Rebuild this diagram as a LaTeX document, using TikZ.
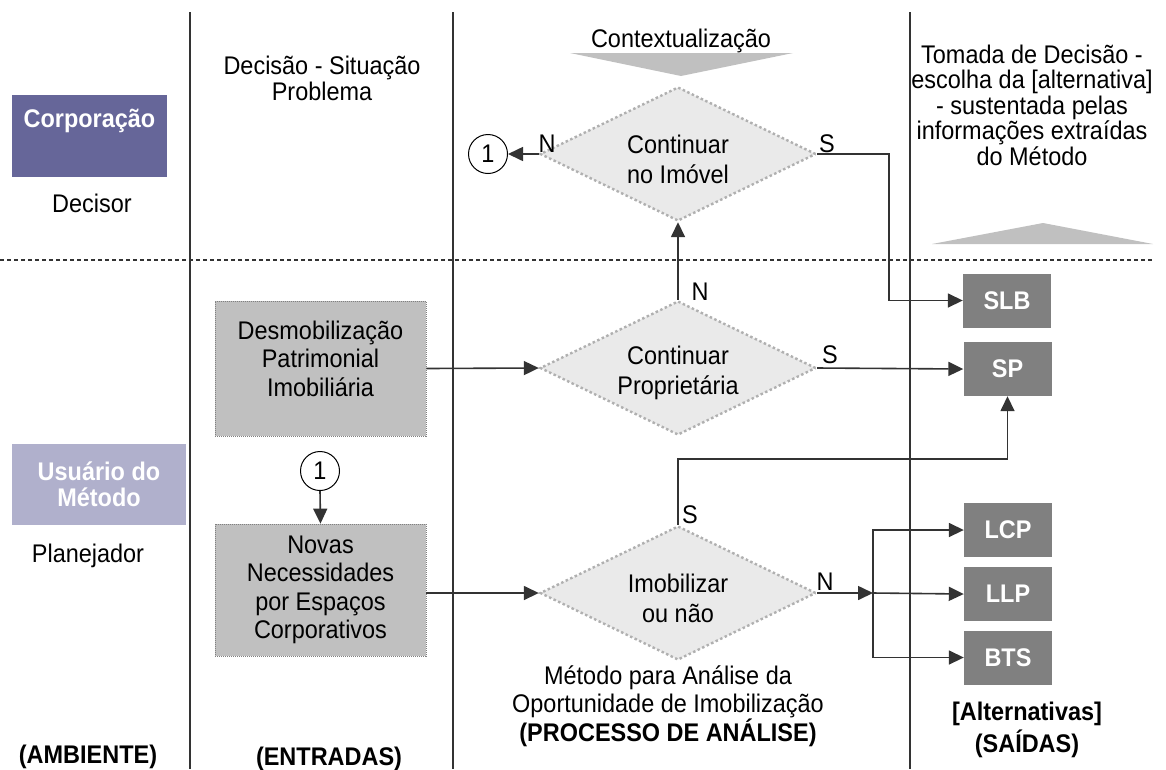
\documentclass[tikz,border=0pt]{standalone}
\usepackage{fontspec}
\setmainfont{Liberation Sans}[FakeStretch=0.92]
\usetikzlibrary{shapes.geometric,arrows.meta}
\definecolor{corpfill}{RGB}{102,102,153}
\definecolor{userfill}{RGB}{176,176,204}
\definecolor{inboxfill}{RGB}{192,192,192}
\definecolor{outfill}{RGB}{128,128,128}
\definecolor{diafill}{RGB}{234,234,234}
\definecolor{diaedge}{RGB}{176,176,176}
\definecolor{ink}{RGB}{51,51,51}
\definecolor{wedge}{RGB}{192,192,192}
\begin{document}
\begin{tikzpicture}[x=1pt,y=-1pt,
  every node/.style={font=\fontsize{25.5}{26}\selectfont, inner sep=0pt},
  lane/.style={draw=ink, line width=2.2pt},
  sepline/.style={draw=ink, line width=2.4pt, dash pattern=on 3.5pt off 3.5pt},
  conn/.style={draw=ink, line width=1.6pt},
  arr/.style={conn, -{Triangle[length=15pt,width=14pt]}},
  decision/.style={diamond, aspect=2.06, minimum width=276pt, minimum height=134pt,
    fill=diafill, draw=diaedge, line width=2.4pt, dash pattern=on 2.5pt off 2.5pt},
  dtext/.style={align=center, font=\fontsize{25.5}{30}\selectfont, yshift=-5pt},
  inbox/.style={rectangle, fill=inboxfill, draw=gray, line width=0.8pt,
    dash pattern=on 1pt off 1pt, minimum width=211pt, align=center,
    font=\fontsize{25.5}{28.5}\selectfont},
  outbox/.style={rectangle, fill=outfill, minimum width=88pt, minimum height=54pt,
    text=white, font=\fontsize{25.5}{26}\selectfont\bfseries},
  actor/.style={rectangle, text=white, align=center,
    font=\fontsize{25.5}{26}\selectfont\bfseries},
  link/.style={circle, draw=black, fill=white, line width=1pt, minimum size=39pt},
  lbl/.style={anchor=base},
  head/.style={anchor=base, font=\fontsize{25.5}{28}\selectfont\bfseries},
  para/.style={align=center}
]
\useasboundingbox (0,0) rectangle (1166,769);

% swim-lane separators
\draw[lane] (190,12) -- (190,769);
\draw[lane] (453,12) -- (453,769);
\draw[lane] (910,12) -- (910,769);
\draw[sepline] (0,260) -- (1155,260);

% context wedges
\fill[wedge] (570,53) -- (793,53) -- (681,76) -- cycle;
\fill[wedge] (932,244) -- (1153,244) -- (1043,223) -- cycle;

% environment column
\node[actor, fill=corpfill, minimum width=155pt, minimum height=82pt,
  label={[actor, yshift=15pt]center:Corporação}] (corp) at (89.5,136) {};
\node (decisor) at (92,203.5) {Decisor};
\node[actor, fill=userfill, minimum width=174pt, minimum height=81pt] (user) at (99,484) {Usuário do\\Método};
\node[lbl] (planejador) at (88,562) {Planejador};

% inputs column
\node[para] (situacao) at (322,78) {Decisão - Situação\\Problema};
\node[inbox, minimum height=135pt,
  label={[inbox, draw=none, fill=none, yshift=10pt]center:Desmobilização\\Patrimonial\\Imobiliária}] (desm) at (320.5,368.5) {};
\node[link] (c2) at (320,471) {1};
\node[inbox, minimum height=132pt] (novas) at (320.5,590) {Novas\\Necessidades\\por Espaços\\Corporativos};

% analysis process
\node[lbl] (context) at (681,47) {Contextualização};
\node[decision, label={[dtext]center:Continuar\\no Imóvel}] (d1) at (678,154) {};
\node[decision, label={[dtext]center:Continuar\\Proprietária}] (d2) at (678,368) {};
\node[decision, label={[dtext]center:Imobilizar\\ou não}] (d3) at (678,593) {};
\node[link] (c1) at (488,154) {1};
\node[para, font=\fontsize{25.5}{28}\selectfont] (metodo) at (668,706) {Método para Análise da\\Oportunidade de Imobilização\\\textbf{(PROCESSO DE ANÁLISE)}};

% outputs
\node[para, font=\fontsize{25.5}{25.5}\selectfont] (tomada) at (1032,105) {Tomada de Decisão -\\escolha da [alternativa]\\- sustentada pelas\\informações extraídas\\do Método};
\node[outbox] (slb) at (1007,300.5) {SLB};
\node[outbox] (sp) at (1007.5,369) {SP};
\node[outbox] (lcp) at (1008,530) {LCP};
\node[outbox] (llp) at (1008,594) {LLP};
\node[outbox] (bts) at (1008,657.5) {BTS};
\node[para, font=\fontsize{25.5}{32}\selectfont\bfseries] (alts) at (1027,730) {[Alternativas]\\(SAÍDAS)};

% column captions
\node[head] (ambiente) at (88,763) {(AMBIENTE)};
\node[head] (entradas) at (329,765) {(ENTRADAS)};

% connectors
\coordinate (k1) at (889,154);
\coordinate (j) at (873,593);
\draw[arr] (d1.west) -- (c1.east);
\draw[arr] (d1.east) -- (k1) |- (slb.west);
\draw[arr] (d2.north) -- (d1.south);
\draw[arr] (desm.east) -- (d2.west);
\draw[arr] (d2.east) -- (sp.west);
\draw[arr] (d3.north) -- ++(0,-66) -| (sp.south);
\draw[arr] (novas.east |- d3.west) -- (d3.west);
\draw[arr] (c2.south) -- (novas.north);
\draw[arr] (d3.east) -- (j);
\draw[arr] (j) |- (lcp.west);
\draw[arr] (j) -- (llp.west);
\draw[arr] (j) |- (bts.west);

% branch labels
\node[lbl] (n1) at (547,152) {N};
\node[lbl] (s1) at (827,152) {S};
\node[lbl] (n2) at (700,300) {N};
\node[lbl] (s2) at (830,363) {S};
\node[lbl] (s3) at (690,523) {S};
\node[lbl] (n3) at (825,590) {N};
\end{tikzpicture}
\end{document}
